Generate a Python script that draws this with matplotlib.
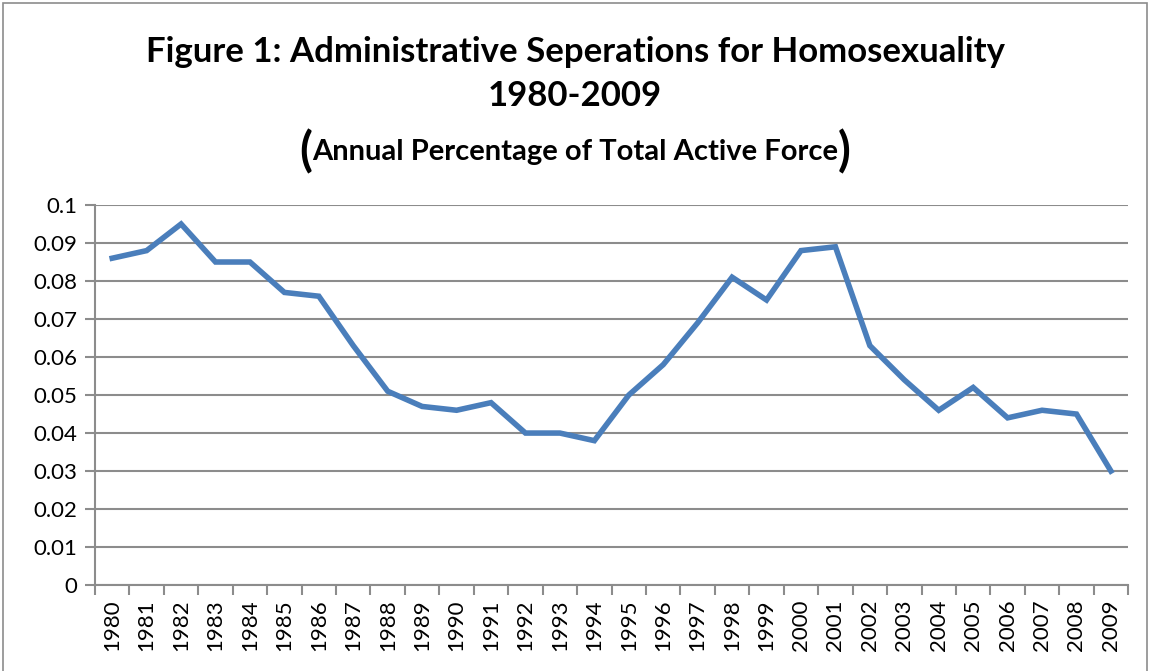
import matplotlib.pyplot as plt
import matplotlib.ticker as mticker
import numpy as np
from matplotlib.patches import Rectangle

years = [str(y) for y in range(1980, 2010)]
separations = [0.086, 0.088, 0.095, 0.085, 0.085, 0.077, 0.076, 0.063, 0.051, 0.047,
               0.046, 0.048, 0.040, 0.040, 0.038, 0.050, 0.058, 0.069, 0.081, 0.075,
               0.088, 0.089, 0.063, 0.054, 0.046, 0.052, 0.044, 0.046, 0.045, 0.030]
y_ticks = [0, 0.01, 0.02, 0.03, 0.04, 0.05, 0.06, 0.07, 0.08, 0.09, 0.1]

plt.rcParams['font.family'] = ['Lato', 'DejaVu Sans']

fig = plt.figure(figsize=(11.5, 6.71), dpi=100)
ax = fig.add_axes([0.0826, 0.128, 0.8984, 0.5665])

x = np.arange(len(years))
ax.plot(x, separations, color='#4a7ebb', linewidth=4, solid_joinstyle='miter', zorder=3)

ax.set_xlim(-0.5, len(years) - 0.5)
ax.set_ylim(0, 0.1)
ax.set_yticks(y_ticks)
ax.yaxis.set_major_formatter(mticker.FuncFormatter(lambda v, p: '%g' % round(v, 2)))
ax.set_xticks(x)
ax.set_xticklabels(years, rotation=90)
ax.set_xticks(np.arange(-0.5, len(years)), minor=True)
ax.tick_params(axis='x', which='major', length=0, pad=10, labelsize=16)
ax.tick_params(axis='x', which='minor', length=7, color='#8c8c8c', width=1.5)
ax.tick_params(axis='y', length=7, color='#8c8c8c', width=1.5, labelsize=16, pad=6)
ax.grid(axis='y', color='#8c8c8c', linewidth=1.5)
ax.set_axisbelow(True)
for side in ['top', 'right']:
    ax.spines[side].set_visible(False)
for side in ['left', 'bottom']:
    ax.spines[side].set_color('#8c8c8c')
    ax.spines[side].set_linewidth(1.5)

fig.text(0.5, 1 - 62 / 671, 'Figure 1: Administrative Seperations for Homosexuality',
         ha='center', va='baseline', fontsize=25, fontweight='bold')
fig.text(0.5, 1 - 106 / 671, '1980-2009',
         ha='center', va='baseline', fontsize=25, fontweight='bold')
sub = fig.text(0.5, 1 - 160 / 671, 'Annual Percentage of Total Active Force', ha='center',
               va='baseline', fontsize=21, fontweight='bold')
fig.canvas.draw()
bb = sub.get_window_extent().transformed(fig.transFigure.inverted())
fig.text(bb.x0, 1 - 166 / 671, '(', ha='right', va='baseline', fontsize=34, fontweight='bold')
fig.text(bb.x1, 1 - 166 / 671, ')', ha='left', va='baseline', fontsize=34, fontweight='bold')

fig.add_artist(Rectangle((0.003, -0.01), 0.994, 1.005, transform=fig.transFigure,
                         fill=False, edgecolor='#8c8c8c', linewidth=1.2))

fig.savefig('out.png', dpi=100)
